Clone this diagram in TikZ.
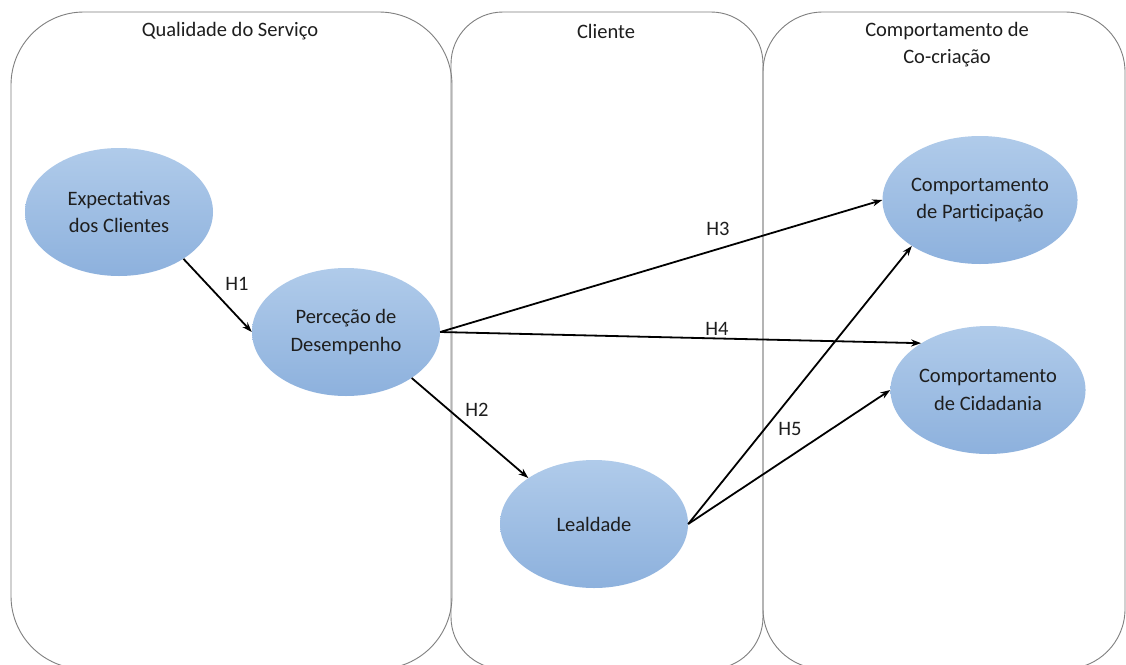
\documentclass[tikz,border=0pt]{standalone}
\usepackage{fontspec}
\setmainfont{Carlito}
\usetikzlibrary{arrows.meta,shapes.geometric}
\definecolor{panelgray}{HTML}{7F7F7F}
\definecolor{elltop}{HTML}{B0CBEA}
\definecolor{ellbot}{HTML}{8DB1DD}
\definecolor{txt}{HTML}{1E1E1E}
\tikzset{
  panel/.style={draw=panelgray, line width=0.9pt},
  title/.style={font=\fontsize{20.5}{27}\selectfont, text=txt, align=center, inner sep=0pt},
  construct/.style={ellipse, minimum width=188pt, minimum height=128pt, inner sep=0pt,
     top color=elltop, bottom color=ellbot, draw=none, align=center,
     font=\fontsize{20.5}{27.5}\selectfont, text=txt},
  link/.style={line width=1.8pt, -{Stealth[length=10pt,width=7pt]}},
  hlabel/.style={font=\fontsize{20.5}{24}\selectfont, text=txt, inner sep=0pt}
}
\begin{document}
\begin{tikzpicture}[x=1pt,y=-1pt]
\useasboundingbox (0,0) rectangle (1126,664);
\clip (0,0) rectangle (1126,664);
\fill[white] (0,0) rectangle (1126,664);
% panels
\draw[panel, rounded corners=73pt] (11,12) rectangle (452,669);
\draw[panel, rounded corners=52pt] (451,12) rectangle (763,669);
\draw[panel, rounded corners=60pt] (763,12) rectangle (1125,669);
% titles
\node[title] (t1) at (230,31) {Qualidade do Serviço};
\node[title] (t2) at (606,31) {Cliente};
\node[title] (t3) at (947,44.5) {Comportamento de\\Co-criação};
% constructs
\node[construct] (exp) at (119,212) {Expectativas\\dos Clientes};
\node[construct] (perc) at (346,332) {Perceção de\\Desempenho};
\node[construct] (lea) at (594,524) {Lealdade};
\node[construct] (part) at (980,200) {Comportamento\\de Participação};
\node[construct] (cid) at (988,390) {Comportamento\\de Cidadania};
% connectors
\draw[link] (exp.324) -- (perc.west);
\draw[link] (perc.325) -- (lea.145);
\draw[link] (perc.east) -- (part.west);
\draw[link] (perc.east) -- (cid.145);
\draw[link] (lea.east) -- (part.214);
\draw[link] (lea.east) -- (cid.west);
% labels
\node[hlabel] (h1) at (237,284) {H1};
\node[hlabel] (h2) at (477,410) {H2};
\node[hlabel] (h3) at (718,229) {H3};
\node[hlabel] (h4) at (717,329) {H4};
\node[hlabel] (h5) at (790,429) {H5};
\end{tikzpicture}
\end{document}
